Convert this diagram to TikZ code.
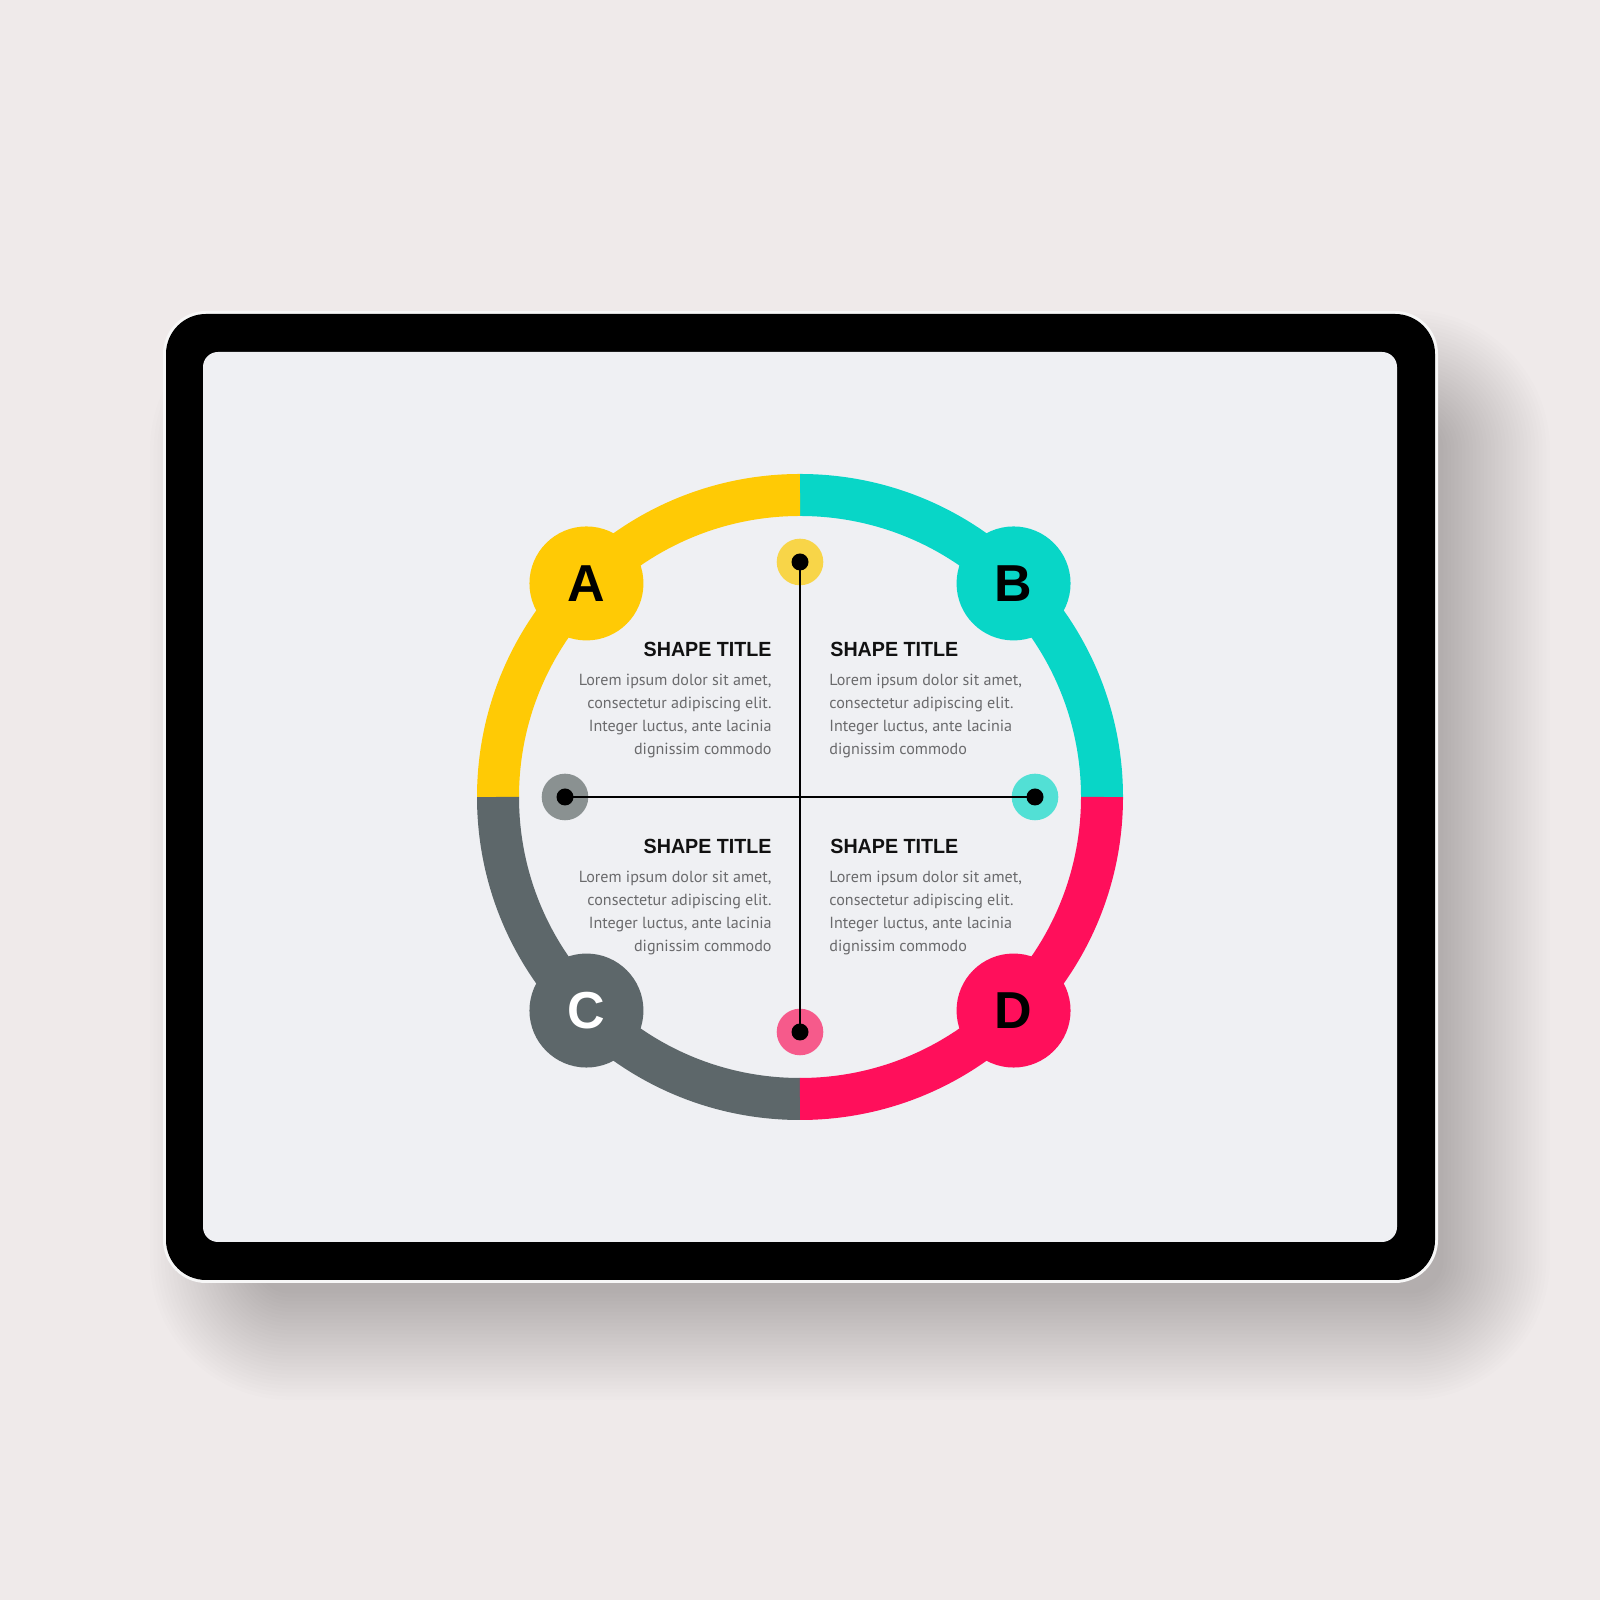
\documentclass[tikz,border=0pt]{standalone}
\usepackage{fontspec}
\setmainfont{PT Sans}
\newfontfamily\titlefont[FakeStretch=0.96]{Liberation Sans}
\newfontfamily\letterfont{Liberation Sans}
\definecolor{bgc}{HTML}{EFEAEA}
\definecolor{screenc}{HTML}{EFF0F3}
\definecolor{rimc}{HTML}{F7F7F7}
\definecolor{cyel}{HTML}{FFCA05}
\definecolor{cteal}{HTML}{08D6C7}
\definecolor{cgray}{HTML}{5D676A}
\definecolor{cpink}{HTML}{FF0F5B}
\definecolor{lyel}{HTML}{F8D548}
\definecolor{lgray}{HTML}{8A9191}
\definecolor{lteal}{HTML}{52E0D5}
\definecolor{lpink}{HTML}{F65A8B}
\definecolor{bodyc}{HTML}{6A6A6C}
\definecolor{titlec}{HTML}{111111}
\tikzset{
  ringseg/.style={line width=21pt},
  lettercirc/.style={circle, minimum size=57pt, inner sep=0pt, font=\letterfont\bfseries\fontsize{26}{26}\selectfont},
  dotout/.style={circle, minimum size=23.3pt, inner sep=0pt},
  dotin/.style={circle, fill=black, minimum size=8.5pt, inner sep=0pt},
  guide/.style={line width=0.8pt, black},
  titletxt/.style={inner sep=0pt, text=titlec, font=\titlefont\bfseries\fontsize{10.25}{12}\selectfont},
  bodytxt/.style={inner sep=0pt, text=bodyc, font=\fontsize{8.05}{11.5}\selectfont}
}
\begin{document}
\begin{tikzpicture}[x=0.5pt,y=0.5pt]
\useasboundingbox (0,0) rectangle (1600,1600);
\fill[bgc] (0,0) rectangle (1600,1600);
% shadow
\foreach \k in {0,...,29}{
  \pgfmathsetmacro{\dd}{110*(1-\k/30)}
  \pgfmathsetmacro{\rr}{(\dd+30)*0.5}
  \fill[black, opacity=0.006, rounded corners=\rr pt] (260-\dd,310-\dd) rectangle (1440+\dd,1180+\dd);
}
% tablet
\fill[rimc, rounded corners=21.5pt] (163,317) rectangle (1438,1289);
\fill[black, rounded corners=20pt] (166,320) rectangle (1435,1286);
\fill[screenc, rounded corners=7.5pt] (203,358) rectangle (1397,1248);
% ring
\begin{scope}[shift={(800,803)}]
\draw[ringseg, cteal] (0:302) arc[start angle=0, end angle=90, radius=302];
\draw[ringseg, cyel] (90:302) arc[start angle=90, end angle=180, radius=302];
\draw[ringseg, cgray] (180:302) arc[start angle=180, end angle=270, radius=302];
\draw[ringseg, cpink] (270:302) arc[start angle=270, end angle=360, radius=302];
\node[lettercirc, fill=cyel, text=black] (A) at (135:302) {A};
\node[lettercirc, fill=cteal, text=black] (B) at (45:302) {B};
\node[lettercirc, fill=cgray, text=white] (C) at (225:302) {C};
\node[lettercirc, fill=cpink, text=black] (D) at (315:302) {D};
\node[dotout, fill=lyel] (dT) at (90:235) {};
\node[dotout, fill=lgray] (dL) at (180:235) {};
\node[dotout, fill=lteal] (dR) at (0:235) {};
\node[dotout, fill=lpink] (dB) at (270:235) {};
\draw[guide] (dT.center) -- (dB.center);
\draw[guide] (dL.center) -- (dR.center);
\node[dotin] (dTc) at (dT.center) {};
\node[dotin] (dLc) at (dL.center) {};
\node[dotin] (dRc) at (dR.center) {};
\node[dotin] (dBc) at (dB.center) {};
\end{scope}
% texts
\node[titletxt, anchor=base east] (tA) at (772,943) {SHAPE TITLE};
\node[titletxt, anchor=base west] (tB) at (830,943) {SHAPE TITLE};
\node[titletxt, anchor=base east] (tC) at (772,746) {SHAPE TITLE};
\node[titletxt, anchor=base west] (tD) at (830,746) {SHAPE TITLE};
\node[bodytxt, anchor=base east, align=right] (bA) at (772,845) {Lorem ipsum dolor sit amet,\\consectetur adipiscing elit.\\Integer luctus, ante lacinia\\dignissim commodo};
\node[bodytxt, anchor=base west, align=left] (bB) at (829,845) {Lorem ipsum dolor sit amet,\\consectetur adipiscing elit.\\Integer luctus, ante lacinia\\dignissim commodo};
\node[bodytxt, anchor=base east, align=right] (bC) at (772,648) {Lorem ipsum dolor sit amet,\\consectetur adipiscing elit.\\Integer luctus, ante lacinia\\dignissim commodo};
\node[bodytxt, anchor=base west, align=left] (bD) at (829,648) {Lorem ipsum dolor sit amet,\\consectetur adipiscing elit.\\Integer luctus, ante lacinia\\dignissim commodo};
\end{tikzpicture}
\end{document}
